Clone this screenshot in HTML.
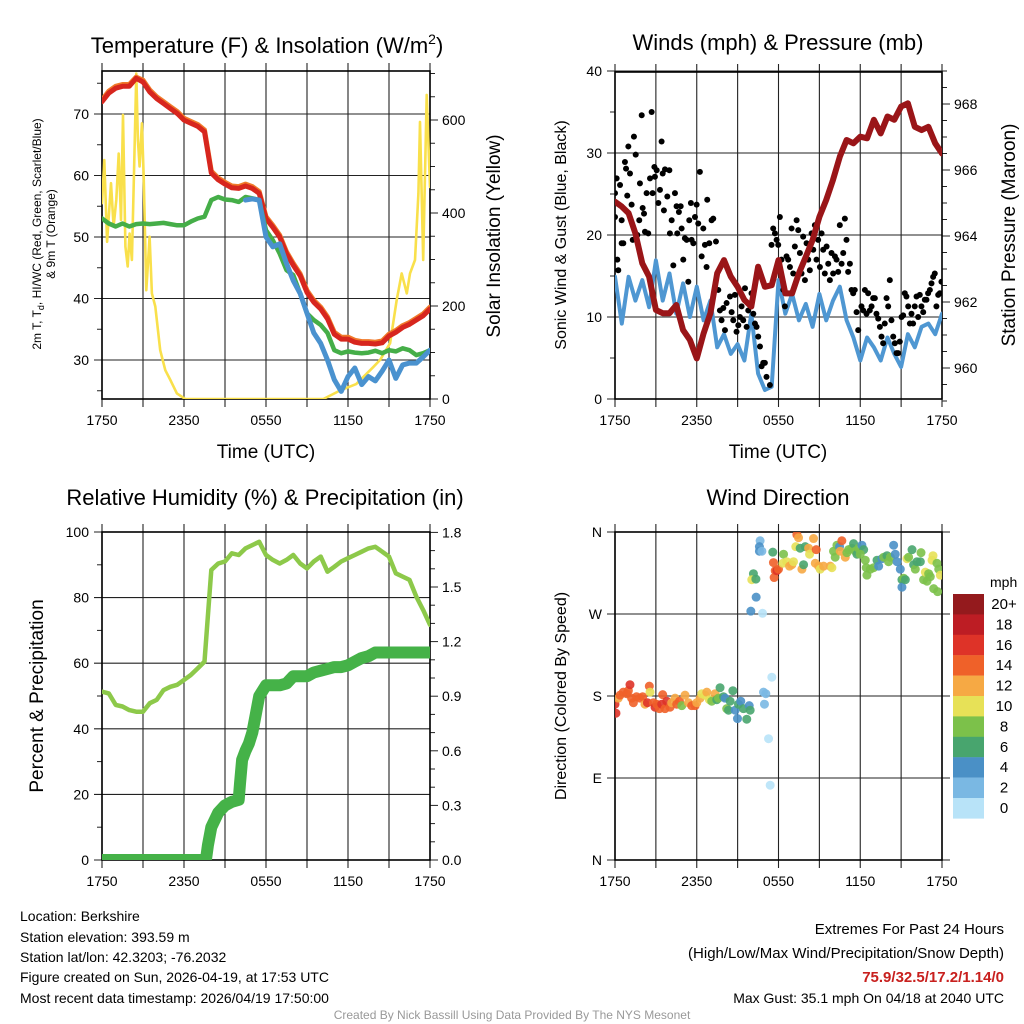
<!DOCTYPE html>
<html><head><meta charset="utf-8">
<style>
html,body{margin:0;padding:0;background:#fff;}
svg{display:block;font-family:"Liberation Sans",Arial,sans-serif;}
</style></head>
<body>
<svg id="fig" width="1024" height="1024" viewBox="0 0 1024 1024" xmlns="http://www.w3.org/2000/svg">
<defs>
<clipPath id="c1"><rect x="102" y="71" width="328" height="328"/></clipPath>
<clipPath id="c2"><rect x="615" y="72" width="327" height="327"/></clipPath>
<clipPath id="c3"><rect x="102" y="532" width="328" height="328"/></clipPath>
<clipPath id="c4"><rect x="615" y="532" width="327" height="328"/></clipPath>
</defs>
<text x="267" y="53" font-size="22" text-anchor="middle">Temperature (F) &amp; Insolation (W/m<tspan dy="-9" font-size="14">2</tspan><tspan dy="9">)</tspan></text>
<text x="778" y="50" font-size="22" text-anchor="middle">Winds (mph) &amp; Pressure (mb)</text>
<text x="265" y="505" font-size="22" text-anchor="middle">Relative Humidity (%) &amp; Precipitation (in)</text>
<text x="778" y="505" font-size="22" text-anchor="middle">Wind Direction</text>

<text x="266" y="458" font-size="19" text-anchor="middle">Time (UTC)</text>
<text x="778" y="458" font-size="19" text-anchor="middle">Time (UTC)</text>

<text transform="translate(41,234) rotate(-90)" font-size="12" text-anchor="middle">2m T, T<tspan dy="3" font-size="9">d</tspan><tspan dy="-3">, HI/WC (Red, Green, Scarlet/Blue)</tspan></text>
<text transform="translate(55,234) rotate(-90)" font-size="12" text-anchor="middle">&amp; 9m T (Orange)</text>
<text transform="translate(500,236) rotate(-90)" font-size="19" text-anchor="middle">Solar Insolation (Yellow)</text>
<text transform="translate(566,235) rotate(-90)" font-size="16" text-anchor="middle">Sonic Wind &amp; Gust (Blue, Black)</text>
<text transform="translate(1015,235) rotate(-90)" font-size="19" text-anchor="middle">Station Pressure (Maroon)</text>
<text transform="translate(43,696) rotate(-90)" font-size="19" text-anchor="middle">Percent &amp; Precipitation</text>
<text transform="translate(566,696) rotate(-90)" font-size="16" text-anchor="middle">Direction (Colored By Speed)</text>

<g font-size="14">
<text x="20" y="921">Location: Berkshire</text>
<text x="20" y="942">Station elevation: 393.59 m</text>
<text x="20" y="962">Station lat/lon: 42.3203; -76.2032</text>
<text x="20" y="982">Figure created on Sun, 2026-04-19, at 17:53 UTC</text>
<text x="20" y="1003">Most recent data timestamp: 2026/04/19 17:50:00</text>
</g>
<g font-size="15" text-anchor="end">
<text x="1004" y="934">Extremes For Past 24 Hours</text>
<text x="1004" y="958">(High/Low/Max Wind/Precipitation/Snow Depth)</text>
<text x="1004" y="982" fill="#c8201e" font-weight="bold">75.9/32.5/17.2/1.14/0</text>
<text x="1004" y="1003" font-size="14">Max Gust: 35.1 mph On 04/18 at 2040 UTC</text>
</g>
<text x="512" y="1019" font-size="12" fill="#999" text-anchor="middle">Created By Nick Bassill Using Data Provided By The NYS Mesonet</text>
</svg>
<script>
// ---------- DATA ----------
const timeLabels = ["1750","2350","0550","1150","1750"];
// half-hourly series (hours 0..24 step 0.5)
const tempT = [72.0,73.4,74.2,74.5,74.5,75.8,75.2,73.6,72.5,71.7,70.9,70.1,69.0,68.5,68.0,67.1,60.4,59.3,58.6,58.0,57.9,58.3,57.9,57.1,53.0,51.6,50.0,47.3,45.4,43.7,41.0,39.4,38.3,36.7,34.2,33.4,33.4,32.9,32.7,32.7,32.6,32.8,33.9,34.5,35.3,35.8,36.5,37.2,38.3];
const temp9m = [72.3,73.7,74.5,74.8,74.8,76.0,75.5,73.9,72.8,72.0,71.2,70.4,69.3,68.8,68.3,67.4,60.7,59.6,58.9,58.3,58.2,58.6,58.2,57.4,53.3,51.9,50.3,47.6,45.7,44.0,41.3,39.7,38.6,37.0,34.5,33.7,33.7,33.2,33.0,33.0,32.9,33.1,34.2,34.8,35.6,36.1,36.8,37.5,38.6];
const dewT = [53.0,52.2,51.7,52.2,51.7,52.1,52.2,52.1,52.2,52.3,52.1,51.9,51.9,52.5,53.0,53.3,56.0,56.5,56.1,56.0,55.7,56.5,56.3,56.0,51.1,49.5,47.3,44.6,43.8,40.8,37.6,36.5,35.7,34.4,31.6,31.1,31.4,31.2,31.1,31.2,31.5,31.1,31.6,31.4,31.9,31.6,30.8,31.1,31.6];
const windChill = [null,null,null,null,null,null,null,null,null,null,null,null,null,null,null,null,null,null,null,null,null,56.0,56.2,56.0,50.0,48.4,48.9,45.7,42.9,40.8,37.6,34.4,32.7,30.0,26.8,24.9,27.3,28.7,26.0,27.3,26.6,28.2,30.0,27.0,29.2,29.5,29.5,30.5,31.6];
const solarHours = [0,0.17,0.37,0.66,0.85,1.05,1.22,1.39,1.54,1.71,1.88,2.02,2.19,2.36,2.51,2.63,2.75,2.92,3.05,3.24,3.48,3.65,3.9,4.26,4.63,5.0,5.48,6.09,16.2,17.4,18.6,19.86,20.35,21.08,21.56,21.93,22.3,22.54,22.9,23.15,23.27,23.5,23.76,24];
const solarValues = [421,514,338,464,371,428,528,385,611,328,285,356,299,514,700,557,500,593,478,234,349,227,199,105,62,41,12,0,0,18,32,69,84,120,213,270,227,270,299,442,596,299,654,456];
const sonicWind = [14.9,9.2,14.9,12.0,14.5,11.2,16.9,12.0,15.3,10.4,14.1,10.0,13.7,9.6,12.0,6.3,7.9,5.5,6.7,4.7,10.4,3.1,1.1,1.5,14.5,10.4,12.8,9.6,11.6,8.8,12.8,9.6,12.0,13.7,9.6,7.5,4.7,7.5,6.3,4.7,7.5,5.5,3.9,7.9,6.3,8.8,9.2,7.9,10.4];
const pressure = [965.04,964.89,964.69,964.08,963.17,962.77,961.76,961.66,961.66,961.91,961.15,960.85,960.29,961.05,961.66,962.87,963.27,962.77,962.46,962.06,961.86,963.07,962.46,962.51,963.27,962.26,962.26,962.87,963.37,963.88,964.58,965.09,965.70,966.40,966.91,966.81,967.01,966.96,967.52,967.11,967.62,967.52,967.92,968.02,967.31,967.21,967.31,966.81,966.50];
const gustHours = [0,0,0.12,0.17,0.24,0.37,0.49,0.49,0.61,0.73,0.81,0.9,0.98,1.1,1.22,1.3,1.39,1.52,1.64,1.78,1.83,1.96,2.03,2.13,2.2,2.32,2.44,2.57,2.69,2.76,2.89,2.93,3.06,3.18,3.3,3.42,3.5,3.59,3.67,3.84,3.99,4.03,4.16,4.28,4.4,4.52,4.57,4.69,4.82,4.89,5.01,5.13,5.26,5.38,5.45,5.57,5.62,5.75,5.87,5.99,6.11,6.23,6.36,6.48,6.6,6.72,6.77,6.92,7.09,7.21,7.41,7.58,7.7,7.82,7.95,8.07,8.19,8.44,8.56,8.68,8.8,8.92,9.05,9.17,9.29,9.41,9.54,9.66,9.78,10.02,10.15,10.27,10.39,10.51,10.64,10.76,10.88,11.0,11.12,11.37,11.49,11.61,11.74,11.86,11.98,12.1,12.22,12.35,12.47,12.59,12.71,12.84,12.96,13.08,13.2,13.33,13.45,13.57,13.69,13.81,13.94,14.06,14.18,14.3,14.43,14.55,14.67,14.79,14.91,15.04,15.16,15.28,15.4,15.53,15.65,15.77,15.89,16.01,16.14,16.26,16.38,16.5,16.63,16.75,16.87,16.99,17.11,17.24,17.36,17.48,17.6,17.73,17.85,18.09,18.22,18.34,18.46,18.58,18.7,18.83,18.95,19.07,19.19,19.32,19.44,19.56,19.68,19.8,19.93,20.05,20.17,20.29,20.42,20.54,20.66,20.78,20.9,21.03,21.15,21.27,21.39,21.52,21.64,21.76,21.88,22.0,22.13,22.25,22.37,22.49,22.62,22.74,22.86,22.98,23.11,23.23,23.35,23.47,23.59,23.72,23.84,23.96];
const gustValues = [25.1,22.2,26.9,17.0,15.7,26.1,21.8,19.0,19.0,28.9,28.1,24.8,30.8,27.5,23.7,19.4,32.0,29.8,20.0,21.8,26.3,34.6,23.3,22.6,20.4,25.1,20.2,26.9,35.0,25.1,28.3,27.1,27.9,23.9,25.5,31.4,27.5,23.0,28.0,24.7,27.9,20.2,21.8,16.3,25.1,23.5,20.2,22.8,23.5,20.8,17.0,19.6,19.4,14.3,21.8,23.9,19.4,19.0,22.2,23.7,21.4,27.7,17.4,20.8,18.8,16.1,24.3,19.0,21.8,22.0,19.2,13.3,10.8,9.6,11.1,8.4,11.7,12.5,10.6,9.6,12.7,8.2,9.0,10.0,11.3,9.6,13.5,8.8,10.8,12.9,10.4,9.2,8.8,7.6,6.4,4.0,4.4,4.4,2.7,1.7,18.8,20.8,20.2,19.4,18.8,22.2,17.0,13.3,11.3,17.4,17.0,16.1,20.8,15.3,18.6,21.8,20.6,17.8,15.3,19.8,14.5,19.0,17.0,15.7,20.2,18.2,21.2,17.0,19.4,16.1,20.2,18.2,15.3,18.6,16.5,14.5,17.8,15.3,17.4,17.0,15.5,21.2,16.5,17.8,22.0,19.4,15.5,16.5,13.3,12.9,13.3,10.6,8.4,11.3,10.8,13.3,10.4,12.9,10.8,11.3,12.3,12.3,10.4,9.8,8.8,7.6,6.8,9.2,12.3,11.3,14.5,9.6,7.6,6.8,5.6,5.6,7.0,10.0,10.2,12.9,12.5,11.3,9.2,10.4,9.2,11.3,12.5,10.0,12.7,11.3,10.6,12.1,12.1,12.9,13.3,14.1,14.9,15.3,11.3,12.7,12.9,14.3];
const relHumidity = [51.3,50.8,47.3,46.8,45.7,45.2,45.2,47.8,48.8,51.8,52.8,53.4,54.9,56.4,58.4,60.5,88.4,90.4,91.0,93.5,93.0,95.0,96.0,97.0,93.0,91.5,90.4,91.5,93.0,90.4,88.9,91.0,92.5,87.9,89.4,91.0,92.0,93.0,94.0,95.0,95.5,94.0,92.5,87.4,86.4,85.4,80.3,76.2,71.7];
const precipHours = [0,7.6,7.75,8,8.5,9,9.5,10,10.1,10.25,10.5,10.75,11,11.25,11.5,12,13,13.5,14,15,15.5,16,17,17.5,18,18.5,19,19.5,20,20.5,21,24];
const precipValues = [0,0,0.08,0.18,0.26,0.30,0.32,0.33,0.42,0.55,0.60,0.64,0.70,0.80,0.90,0.96,0.96,0.97,1.01,1.01,1.03,1.04,1.06,1.06,1.07,1.09,1.11,1.12,1.14,1.14,1.14,1.14];
const dirHours = [0,0.07,0.24,0.37,0.61,0.86,0.98,1.10,1.22,1.35,1.59,1.84,2.03,2.20,2.38,2.52,2.57,2.82,2.94,3.06,3.26,3.43,3.50,3.67,3.80,4.04,4.16,4.41,4.53,4.73,4.90,5.14,5.39,5.63,5.88,6.00,6.25,6.37,6.61,6.74,6.93,7.10,7.35,7.47,7.59,7.71,7.96,8.08,8.20,8.33,8.45,8.65,8.82,8.99,9.06,9.23,9.43,9.67,9.85,9.92,
 9.97,10.36,10.83,10.16,10.04,10.34,10.65,10.60,10.60,10.78,11.58,11.63,11.76,11.68,11.88,12.0,12.37,12.32,12.61,12.81,12.98,13.10,13.35,13.47,13.27,13.59,13.72,13.84,13.96,14.21,14.28,14.57,14.77,14.70,14.94,15.06,15.31,15.80,15.92,16.04,16.16,16.29,16.48,16.65,16.53,16.90,17.02,17.14,17.39,17.51,17.63,17.76,17.88,18.12,18.25,18.0,18.37,18.49,18.44,18.74,18.98,19.23,19.35,19.59,19.72,19.96,20.08,20.21,20.45,20.57,20.70,20.94,21.06,21.19,21.06,21.31,21.43,21.55,21.80,21.92,22.04,22.16,22.41,22.46,22.65,22.78,22.90,23.02,23.14,23.27,23.34,23.39,23.63,23.68,23.76,23.88,
 11.51,10.9,11.07,10.97,11.27,11.39];
const dirDegrees = [171.0,161.1,177.6,180.9,184.2,182.5,185.8,192.4,177.6,172.6,179.2,177.6,179.2,171.0,172.6,190.8,184.2,172.6,167.7,171.0,166.1,171.0,181.5,166.1,174.3,167.7,172.6,177.6,171.0,174.3,169.4,180.9,172.6,169.4,169.4,172.6,177.6,182.5,180.9,184.2,175.9,174.3,182.5,175.9,177.6,189.1,179.2,177.6,166.1,164.4,174.3,185.8,164.4,155.2,171.0,174.3,166.1,154.5,169.4,164.4,
 273.1,288.5,270.8,314.2,307.6,308.3,350.4,343.9,338.9,338.9,337.9,326.4,317.5,310.0,317.5,319.2,335.6,325.7,327.4,322.5,324.1,327.4,357.0,353.7,343.9,342.2,319.2,324.1,343.9,342.2,335.6,352.8,340.6,325.7,322.5,319.2,322.5,322.5,320.8,338.9,332.3,345.5,343.9,350.4,338.9,332.3,337.3,340.6,342.2,347.2,338.9,335.6,342.2,345.5,340.6,335.6,329.0,312.6,320.8,319.2,320.8,329.0,322.5,330.7,332.3,334.0,327.4,332.3,345.5,335.6,327.4,319.2,307.6,309.3,299.4,307.6,330.7,332.3,340.6,324.1,319.2,327.4,327.4,337.3,307.6,315.9,306.0,314.2,311.0,329.0,334.0,297.8,325.7,294.5,319.2,312.6,
 200.6,184.2,182.5,171.0,133.1,82.1];
const dirSpeeds = [16,16,12,14,14,14,14,16,14,14,14,14,14,12,16,14,10,14,16,14,14,16,14,14,16,14,12,12,14,14,8,12,12,14,14,12,12,10,10,12,10,8,12,6,8,6,6,4,8,6,6,6,4,4,6,4,6,6,4,6,
 4,4,0,6,10,6,2,4,4,2,6,14,14,14,16,14,8,10,10,12,12,10,14,12,10,6,12,6,6,12,10,12,14,12,12,10,12,12,10,8,8,8,4,14,12,12,8,8,8,6,8,6,8,4,6,8,8,8,8,8,8,6,4,4,8,6,8,8,4,4,4,4,6,8,4,6,10,8,6,6,8,6,6,8,8,10,8,8,8,10,10,8,8,8,8,10,
 0,2,2,2,0,0];
const speedLabels = ["20+","18","16","14","12","10","8","6","4","2","0"];
const speedColors = ["#941a1d","#bd1d24","#de3328","#ef6129","#f6a944","#e7e157","#7cc14a","#48a56e","#4a90c6","#7ab8e3","#b8e3f8"];

// ---------- DRAWING ----------
const NS = "http://www.w3.org/2000/svg";
const svg = document.getElementById('fig');
function mk(tag, attrs, parent) {
  const e = document.createElementNS(NS, tag);
  for (const k in attrs) e.setAttribute(k, attrs[k]);
  (parent || svg).appendChild(e);
  return e;
}
function txt(str, attrs, parent) { const t = mk('text', attrs, parent); t.textContent = str; return t; }
function isMajor(v, base, step) { const k = (v - base) / step; return Math.abs(k - Math.round(k)) < 1e-6; }

function panel(name, x0, x1, y0, y1, clip, left, right) {
  const g = mk('g', {});
  
  
  const sx = h => x0 + h / 24 * (x1 - x0);
  for (let h = 0; h <= 24; h += 3) {
    const l = mk('line', {x1: sx(h), x2: sx(h), y1: y0 - 8, y2: y1 + 8, stroke: '#222', 'stroke-width': 1.1}, g);
    
    
  }
  for (let i = 0; i < timeLabels.length; i++) {
    const t = txt(timeLabels[i], {x: sx(i * 6), y: y1 + 26, 'font-size': 14, 'text-anchor': 'middle'}, g);
    
    
  }
  for (let v = left.min; v <= left.max + 1e-9; v += left.minor) {
    const y = left.f(v);
    if (isMajor(v, left.base, left.step)) {
      const l = mk('line', {x1: x0 - 8, x2: x1 + (right ? 0 : 8), y1: y, y2: y, stroke: '#222', 'stroke-width': 1.1}, g);
      
      
      const lbl = left.labels ? left.labels[Math.round((v - left.base) / left.step)] : (+v.toFixed(2)).toString();
      const t = txt(lbl, {x: x0 - 13, y: y + 5, 'font-size': 14, 'text-anchor': 'end'}, g);
      
      
    } else {
      const l = mk('line', {x1: x0 - 5, x2: x0, y1: y, y2: y, stroke: '#222', 'stroke-width': 1}, g);
      
      
    }
  }
  if (right) {
    for (let v = right.min; v <= right.max + 1e-9; v += right.minor) {
      const y = right.f(v);
      const major = isMajor(v, right.base, right.step);
      const l = mk('line', {x1: x1, x2: x1 + (major ? 8 : 5), y1: y, y2: y, stroke: '#222', 'stroke-width': 1}, g);
      
      
      if (major) {
        const t = txt(right.fmt(v), {x: x1 + 12, y: y + 5, 'font-size': 14}, g);
        
        
      }
    }
  }
  const fr = mk('rect', {x: x0, y: y0, width: x1 - x0, height: y1 - y0, fill: 'none', stroke: '#000', 'stroke-width': 1.6}, g);
  
  
  const pg = mk('g', {'clip-path': 'url(#' + clip + ')'}, g);
  
  
  return {g: pg, sx};
}
function lineHalf(arr, sx, fy, color, w, parent, nm) {
  const segs = []; let cur = [];
  arr.forEach((v, i) => {
    if (v === null) { if (cur.length) segs.push(cur); cur = []; }
    else cur.push(sx(i * 0.5).toFixed(1) + ',' + fy(v).toFixed(1));
  });
  if (cur.length) segs.push(cur);
  segs.forEach(s => {
    const p = mk('polyline', {points: s.join(' '), fill: 'none', stroke: color, 'stroke-width': w, 'stroke-linejoin': 'round', 'stroke-linecap': 'round'}, parent);
    
    
  });
}
function lineXY(xs, ys, sx, fy, color, w, parent, nm) {
  const pts = xs.map((h, i) => sx(h).toFixed(1) + ',' + fy(ys[i]).toFixed(1)).join(' ');
  const p = mk('polyline', {points: pts, fill: 'none', stroke: color, 'stroke-width': w, 'stroke-linejoin': 'round', 'stroke-linecap': 'round'}, parent);
  
  
}

// Panel 1
const yT = v => 360 - (v - 30) * 6.15;
const yS = v => 399 - v * 0.465;
const p1 = panel('temperature', 102, 430, 71, 399, 'c1',
  {min: 25, max: 75, base: 30, step: 10, minor: 5, f: yT, labels: null},
  {min: 0, max: 700, base: 0, step: 200, minor: 50, f: yS, fmt: v => String(v)});
lineXY(solarHours, solarValues, p1.sx, yS, '#f9e04b', 2.6, p1.g, 'solar-insolation-line');
lineHalf(temp9m, p1.sx, yT, '#f07a2a', 5, p1.g, 'temp-9m-line');
lineHalf(tempT, p1.sx, yT, '#d7261e', 5, p1.g, 'temp-2m-line');
lineHalf(dewT, p1.sx, yT, '#45ae48', 4.5, p1.g, 'heat-index-line');
lineHalf(windChill, p1.sx, yT, '#4a92cf', 5, p1.g, 'wind-chill-line');

// Panel 2
const yW = v => 399 - v * 8.2;
const yP = v => 170 - (v - 966) * 33;
const p2 = panel('winds', 615, 942, 72, 399, 'c2',
  {min: 0, max: 40, base: 0, step: 10, minor: 5, f: yW, labels: null},
  {min: 959, max: 969, base: 960, step: 2, minor: 0.5, f: yP, fmt: v => String(v)});
lineHalf(sonicWind, p2.sx, yW, '#4f97d2', 4, p2.g, 'sonic-wind-line');
gustHours.forEach((h, i) => {
  const c = mk('circle', {cx: p2.sx(h), cy: yW(gustValues[i]), r: 3, fill: '#000'}, p2.g);
  
  
});
lineHalf(pressure, p2.sx, yP, '#9a1518', 6, p2.g, 'pressure-line');

// Panel 3
const yR = v => 860 - v * 3.28;
const yPr = v => 860 - v * 182;
const p3 = panel('humidity', 102, 430, 532, 860, 'c3',
  {min: 0, max: 100, base: 0, step: 20, minor: 10, f: yR, labels: null},
  {min: 0, max: 1.8, base: 0, step: 0.3, minor: 0.1, f: yPr, fmt: v => v.toFixed(1)});
lineHalf(relHumidity, p3.sx, yR, '#8dc94a', 4.5, p3.g, 'relative-humidity-line');
lineXY(precipHours, precipValues, p3.sx, yPr, '#45b248', 12, p3.g, 'precipitation-line');

// Panel 4
const yD = d => 860 - d * 82 / 90;
const p4 = panel('direction', 615, 942, 532, 860, 'c4',
  {min: 0, max: 360, base: 0, step: 90, minor: 90, f: yD, labels: ["N","E","S","W","N"]}, null);
function speedColor(s) { let b = Math.floor(s / 2); if (b > 10) b = 10; return speedColors[10 - b]; }
dirHours.forEach((h, i) => {
  const c = mk('circle', {cx: p4.sx(h), cy: yD(dirDegrees[i]), r: 4.5, fill: speedColor(dirSpeeds[i]), 'fill-opacity': 0.9}, p4.g);
  
  
});

// Legend
const lg = mk('g', {});


const mphT = txt('mph', {x: 990, y: 587, 'font-size': 14}, lg);


speedLabels.forEach((s, i) => {
  const r = mk('rect', {x: 953, y: 594 + i * 20.4, width: 31, height: 20.6, fill: speedColors[i]}, lg);
  
  
  const t = txt(s, {x: 1004, y: 609 + i * 20.4, 'font-size': 15, 'text-anchor': 'middle'}, lg);
  
  
});
</script>
</body></html>
